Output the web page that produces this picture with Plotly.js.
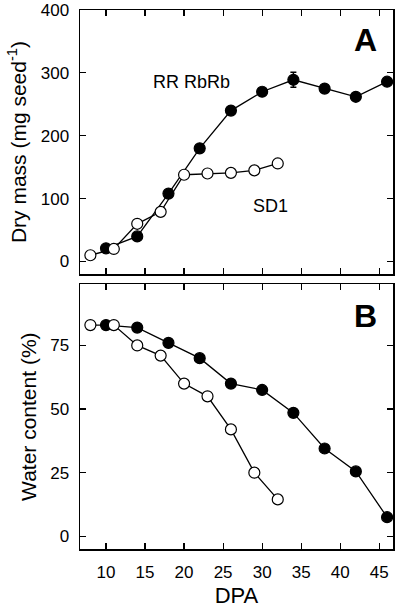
<!DOCTYPE html>
<html>
<head>
<meta charset="utf-8">
<script src="https://cdn.plot.ly/plotly-3.0.1.min.js"></script>
<style>html,body{margin:0;padding:0;background:#fff;}#chart{width:400px;height:608px;}</style>
</head>
<body>
<div id="chart"></div>
<script>
// Panel A: dry mass (mg seed-1)
const dpaRR = [10, 14, 18, 22, 26, 30, 34, 38, 42, 46];
const dryRR = [21, 40, 108, 180, 240, 270, 289, 275, 262, 286];
const dryRRerr = [0, 0, 0, 0, 0, 0, 12, 0, 0, 0];
const dpaSD1 = [8, 11, 14, 17, 20, 23, 26, 29, 32];
const drySD1 = [10, 20, 60, 79, 138, 140, 141, 145, 156];
// Panel B: water content (%)
const waterRR = [83, 82, 76, 70, 60, 57.5, 48.5, 34.5, 25.5, 7.5];
const waterSD1 = [83, 83, 75, 71, 60, 55, 42, 25, 14.5];
const xTicks = [10, 15, 20, 25, 30, 35, 40, 45];
const yTicksA = [0, 100, 200, 300, 400];
const yTicksB = [0, 25, 50, 75];

const FONT = '"Liberation Sans", Arial, Helvetica, sans-serif';
const lineStyle = {color: '#000', width: 1.3};
const filled = {size: 11, color: '#000', line: {color: '#000', width: 1.2}};
const open = {size: 11, color: '#fff', line: {color: '#000', width: 1.2}};

const traces = [
  {x: dpaRR, y: dryRR, xaxis: 'x2', yaxis: 'y', mode: 'lines+markers', line: lineStyle, marker: filled,
   error_y: {type: 'data', array: dryRRerr, visible: true, color: '#000', thickness: 1.5, width: 3}, name: 'RR RbRb'},
  {x: dpaSD1, y: drySD1, xaxis: 'x2', yaxis: 'y', mode: 'lines+markers', line: lineStyle, marker: open, name: 'SD1'},
  {x: dpaRR, y: waterRR, xaxis: 'x', yaxis: 'y2', mode: 'lines+markers', line: lineStyle, marker: filled, name: 'RR RbRb'},
  {x: dpaSD1, y: waterSD1, xaxis: 'x', yaxis: 'y2', mode: 'lines+markers', line: lineStyle, marker: open, name: 'SD1'}
];

const axCommon = {
  showline: true, linecolor: '#000', linewidth: 1.5, mirror: 'ticks',
  ticks: 'inside', ticklen: 6, tickwidth: 1.2, tickcolor: '#000',
  showgrid: false, zeroline: false,
  tickfont: {family: FONT, size: 17, color: '#000'}
};

const layout = {
  width: 400, height: 608,
  margin: {l: 80, r: 7, t: 10, b: 59},
  paper_bgcolor: '#fff', plot_bgcolor: '#fff',
  showlegend: false,
  font: {family: FONT, color: '#000'},
  xaxis: Object.assign({}, axCommon, {
    domain: [0, 1], anchor: 'y2', range: [6.67, 46.76],
    tickvals: xTicks, ticklabelstandoff: 7,
    title: {text: 'DPA', font: {family: FONT, size: 22, color: '#000'}, standoff: 6}
  }),
  xaxis2: Object.assign({}, axCommon, {
    domain: [0, 1], anchor: 'y', range: [6.67, 46.76], matches: 'x',
    tickvals: xTicks, showticklabels: false
  }),
  yaxis: Object.assign({}, axCommon, {
    domain: [0.51, 1], anchor: 'x2', range: [-20, 400],
    tickvals: yTicksA, ticklabelstandoff: 6,
    title: {text: 'Dry mass (mg seed<sup>-1</sup>)', font: {family: FONT, size: 21, color: '#000'}, standoff: 8}
  }),
  yaxis2: Object.assign({}, axCommon, {
    domain: [0, 0.491], anchor: 'x', range: [-5, 99],
    tickvals: yTicksB, ticklabelstandoff: 6,
    title: {text: 'Water content (%)', font: {family: FONT, size: 21, color: '#000'}, standoff: 8}
  }),
  annotations: [
    {text: '<b>A</b>', xref: 'x2', yref: 'y', x: 43.2, y: 352, showarrow: false,
     font: {family: FONT, size: 32, color: '#000'}},
    {text: '<b>B</b>', xref: 'x', yref: 'y2', x: 43.2, y: 86.5, showarrow: false,
     font: {family: FONT, size: 32, color: '#000'}},
    {text: 'RR RbRb', xref: 'x2', yref: 'y', x: 20.9, y: 286, showarrow: false,
     font: {family: FONT, size: 18, color: '#000'}},
    {text: 'SD1', xref: 'x2', yref: 'y', x: 31.1, y: 89, showarrow: false,
     font: {family: FONT, size: 18, color: '#000'}}
  ]
};

Plotly.newPlot('chart', traces, layout, {staticPlot: true, displayModeBar: false});
</script>
</body>
</html>
